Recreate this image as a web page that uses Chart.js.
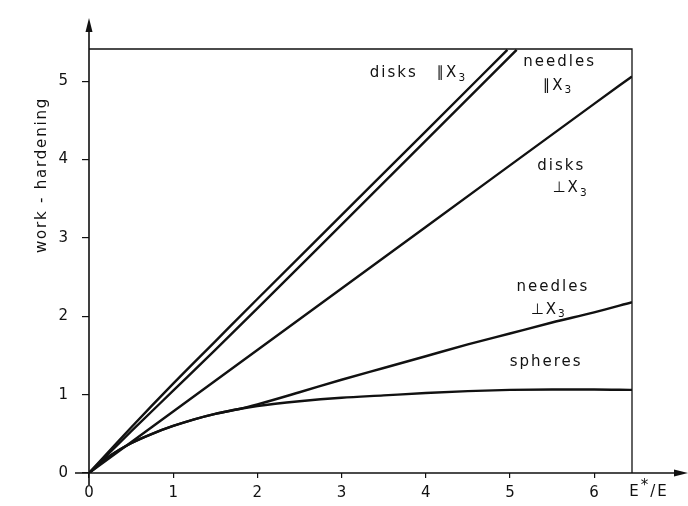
<!DOCTYPE html>
<html>
<head>
<meta charset="utf-8">
<script src="https://cdn.jsdelivr.net/npm/chart.js@4/dist/chart.umd.min.js"></script>
<style>
  html, body { margin: 0; padding: 0; background: #fff; }
  #wrap { width: 688px; height: 506px; }
</style>
</head>
<body>
<div id="wrap"><canvas id="c" width="688" height="506"></canvas></div>
<script>
// Axis ticks and ranges
const xTicks = [0, 1, 2, 3, 4, 5, 6];
const yTicks = [0, 1, 2, 3, 4, 5];
const xRange = [0, 6.45];
const yRange = [0, 5.41];

// Work-hardening versus stiffness ratio E*/E, per inclusion shape
const disksParX   = [0, 0.5, 1, 1.5, 2, 3, 4, 4.97];
const disksParY   = [0, 0.58, 1.14, 1.68, 2.22, 3.29, 4.36, 5.40];

const needlesParX = [0, 0.5, 1, 1.5, 2, 3, 4, 5.08];
const needlesParY = [0, 0.53, 1.05, 1.57, 2.10, 3.17, 4.24, 5.40];

const disksPerpX  = [0, 1, 2, 3, 4, 5, 6, 6.45];
const disksPerpY  = [0, 0.785, 1.57, 2.355, 3.14, 3.925, 4.71, 5.06];

const needlesPerpX = [0, 0.25, 0.5, 0.75, 1, 1.25, 1.5, 1.8, 2, 2.5, 3, 3.5, 4, 4.5, 5, 5.5, 6, 6.45];
const needlesPerpY = [0, 0.22, 0.38, 0.50, 0.60, 0.685, 0.755, 0.82, 0.875, 1.03, 1.19, 1.34, 1.49, 1.64, 1.78, 1.92, 2.05, 2.18];

const spheresX = [0, 0.25, 0.5, 0.75, 1, 1.25, 1.5, 1.8, 2, 2.5, 3, 3.5, 4, 4.5, 5, 5.5, 6, 6.45];
const spheresY = [0, 0.22, 0.38, 0.50, 0.60, 0.685, 0.755, 0.82, 0.855, 0.915, 0.96, 0.99, 1.02, 1.045, 1.06, 1.065, 1.065, 1.06];

// Curve labels: text parts anchored in data coordinates
const curveLabels = [
  { x: 3.62, y: 5.10, parts: [{ t: 'disks' }] },
  { x: 4.31, y: 5.10, parts: [{ t: '\u2225X' }, { t: '3', sub: true }] },
  { x: 5.59, y: 5.24, parts: [{ t: 'needles' }] },
  { x: 5.57, y: 4.94, parts: [{ t: '\u2225X' }, { t: '3', sub: true }] },
  { x: 5.61, y: 3.92, parts: [{ t: 'disks' }] },
  { x: 5.72, y: 3.63, parts: [{ t: '\u22A5X' }, { t: '3', sub: true }] },
  { x: 5.51, y: 2.37, parts: [{ t: 'needles' }] },
  { x: 5.46, y: 2.08, parts: [{ t: '\u22A5X' }, { t: '3', sub: true }] },
  { x: 5.43, y: 1.42, parts: [{ t: 'spheres' }] }
];

const FONT = 'DejaVu Sans';
const INK = '#111';

function pts(xs, ys) { return xs.map((x, i) => ({ x, y: ys[i] })); }

function curve(label, xs, ys) {
  return {
    label,
    data: pts(xs, ys),
    showLine: true,
    borderColor: INK,
    borderWidth: 2.4,
    pointRadius: 0,
    cubicInterpolationMode: 'monotone',
    fill: false
  };
}

function drawParts(ctx, parts, cx, cy, size, spacing) {
  ctx.save();
  ctx.letterSpacing = spacing + 'px';
  ctx.textBaseline = 'middle';
  ctx.textAlign = 'left';
  let w = 0;
  const m = parts.map(p => {
    const s = p.sub ? size * 0.7 : size;
    ctx.font = s + 'px "' + FONT + '"';
    const pw = ctx.measureText(p.t).width;
    w += pw;
    return { p, s, pw };
  });
  let x = cx - w / 2;
  m.forEach(({ p, s, pw }) => {
    ctx.font = s + 'px "' + FONT + '"';
    const dy = p.sub ? size * 0.3 : (p.sup ? -size * 0.4 : 0);
    ctx.fillText(p.t, x, cy + dy);
    x += pw;
  });
  ctx.restore();
}

const framePlugin = {
  id: 'frame',
  afterDatasetsDraw(chart) {
    const { ctx, chartArea: a, scales } = chart;
    const x0 = scales.x.getPixelForValue(0);
    const y0 = scales.y.getPixelForValue(0);
    ctx.save();
    ctx.strokeStyle = INK;
    ctx.fillStyle = INK;

    // top and right frame lines
    ctx.lineWidth = 1.3;
    ctx.beginPath();
    ctx.moveTo(x0, a.top);
    ctx.lineTo(a.right, a.top);
    ctx.lineTo(a.right, y0);
    ctx.stroke();

    // axes with arrowheads
    ctx.lineWidth = 1.6;
    ctx.beginPath();
    ctx.moveTo(x0, y0 + 12);
    ctx.lineTo(x0, 24);
    ctx.moveTo(x0 - 14, y0);
    ctx.lineTo(684, y0);
    ctx.stroke();
    ctx.beginPath();
    ctx.moveTo(x0, 18); ctx.lineTo(x0 - 3.5, 32); ctx.lineTo(x0 + 3.5, 32); ctx.closePath();
    ctx.fill();
    ctx.beginPath();
    ctx.moveTo(688, y0); ctx.lineTo(674, y0 - 3.5); ctx.lineTo(674, y0 + 3.5); ctx.closePath();
    ctx.fill();

    // axis titles
    drawParts(ctx, [{ t: 'E' }, { t: '*', sup: true }, { t: '/E' }], 649, 492, 15, 2);
    ctx.save();
    ctx.translate(42, 175);
    ctx.rotate(-Math.PI / 2);
    drawParts(ctx, [{ t: 'work - hardening' }], 0, 0, 15, 1.8);
    ctx.restore();

    // curve labels
    curveLabels.forEach(l => {
      drawParts(ctx, l.parts, scales.x.getPixelForValue(l.x), scales.y.getPixelForValue(l.y), 15, 2);
    });
    ctx.restore();
  }
};

new Chart(document.getElementById('c'), {
  type: 'scatter',
  data: {
    datasets: [
      curve('disks \u2225X3', disksParX, disksParY),
      curve('needles \u2225X3', needlesParX, needlesParY),
      curve('disks \u22A5X3', disksPerpX, disksPerpY),
      curve('needles \u22A5X3', needlesPerpX, needlesPerpY),
      curve('spheres', spheresX, spheresY)
    ]
  },
  options: {
    responsive: false,
    animation: false,
    devicePixelRatio: 1,
    layout: { padding: { left: 0, top: 49, right: 56, bottom: 0 } },
    plugins: { legend: { display: false }, tooltip: { enabled: false } },
    scales: {
      x: {
        type: 'linear',
        min: xRange[0],
        max: xRange[1],
        afterBuildTicks: s => { s.ticks = xTicks.map(v => ({ value: v })); },
        afterFit: s => { s.height = 33; },
        border: { display: false },
        grid: { display: true, drawOnChartArea: false, drawTicks: true, tickLength: 5, color: INK, lineWidth: 1.2 },
        ticks: { color: INK, font: { family: FONT, size: 15 }, padding: 6, maxRotation: 0, autoSkip: false, callback: v => String(v) }
      },
      y: {
        type: 'linear',
        min: yRange[0],
        max: yRange[1],
        afterBuildTicks: s => { s.ticks = yTicks.map(v => ({ value: v })); },
        afterFit: s => { s.width = 89; },
        border: { display: false },
        grid: { display: true, drawOnChartArea: false, drawTicks: true, tickLength: 7, color: INK, lineWidth: 1.2 },
        ticks: { color: INK, font: { family: FONT, size: 15 }, padding: 14, callback: v => String(v) }
      }
    }
  },
  plugins: [framePlugin]
});
</script>
</body>
</html>
